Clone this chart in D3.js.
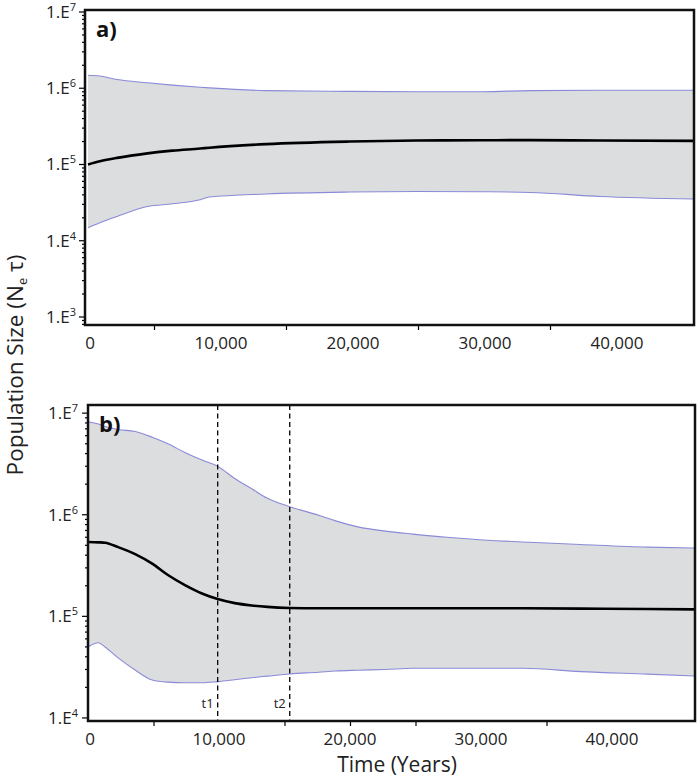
<!DOCTYPE html>
<html>
<head>
<meta charset="utf-8">
<script src="https://cdn.jsdelivr.net/npm/d3@7"></script>
<style>
  html, body { margin: 0; padding: 0; background: #fff; }
  svg { display: block; font-family: "Open Sans", "Noto Sans", sans-serif; }
</style>
</head>
<body>
<svg id="chart" width="700" height="780"></svg>
<script>
// ---------- DATA ----------
// Panel a) : time (years) and population size (Ne tau)
const timeA   = [0, 900, 2200, 4500, 6400, 8500, 9200, 13500, 19800, 24900, 29900, 33500, 38800, 45900];
const upperA  = [1.48e6, 1.45e6, 1.30e6, 1.18e6, 1.10e6, 1.03e6, 1.01e6, 9.3e5, 9.1e5, 9.0e5, 9.0e5, 9.3e5, 9.4e5, 9.4e5];
const medianA = [1.0e5, 1.1e5, 1.22e5, 1.40e5, 1.52e5, 1.62e5, 1.66e5, 1.85e5, 2.0e5, 2.06e5, 2.08e5, 2.09e5, 2.06e5, 2.04e5];
const lowerA  = [1.48e4, 1.72e4, 2.08e4, 2.81e4, 3.05e4, 3.45e4, 3.74e4, 4.1e4, 4.35e4, 4.43e4, 4.39e4, 4.3e4, 3.81e4, 3.52e4];

// Panel b)
const timeB   = [0, 800, 1300, 2300, 3600, 4900, 6100, 7400, 8700, 9900, 11200, 12500, 13700, 15400, 17600, 18900, 20600, 22700, 24800, 27400, 32400, 33200, 37600, 42700, 46300];
const upperB  = [8.2e6, 7.8e6, 7.4e6, 6.9e6, 6.6e6, 5.8e6, 5.0e6, 4.1e6, 3.45e6, 3.0e6, 2.27e6, 1.8e6, 1.45e6, 1.2e6, 9.9e5, 8.7e5, 7.6e5, 6.9e5, 6.45e5, 6.0e5, 5.45e5, 5.4e5, 5.1e5, 4.8e5, 4.7e5];
const medianB = [5.4e5, 5.35e5, 5.3e5, 4.8e5, 4.1e5, 3.3e5, 2.55e5, 2.03e5, 1.68e5, 1.48e5, 1.35e5, 1.28e5, 1.24e5, 1.21e5, 1.2e5, 1.2e5, 1.2e5, 1.2e5, 1.2e5, 1.2e5, 1.2e5, 1.2e5, 1.19e5, 1.18e5, 1.17e5];
const lowerB  = [5.0e4, 5.5e4, 5.0e4, 3.9e4, 2.96e4, 2.36e4, 2.25e4, 2.22e4, 2.22e4, 2.28e4, 2.38e4, 2.49e4, 2.58e4, 2.71e4, 2.82e4, 2.9e4, 2.95e4, 3.0e4, 3.08e4, 3.08e4, 3.08e4, 3.08e4, 2.86e4, 2.7e4, 2.59e4];

// Change points (years)
const changeTimes  = [9900, 15400];
const changeLabels = ["t1", "t2"];

// Tick labels
const xTickValues = [0, 10000, 20000, 30000, 40000];
const xMinorA = [5000, 15000, 25000, 35000];
const xMinorB = [5000, 15000, 20000, 25000, 35000];
const yTicksA = [3, 4, 5, 6, 7];
const yTicksB = [4, 5, 6, 7];
const panelLabels = ["a)", "b)"];
const yTitle = "Population Size";
const xTitle = "Time (Years)";

// ---------- DRAW ----------
const svg = d3.select("#chart");
const fmt = d3.format(",");

const panels = [
  { key: "a", label: panelLabels[0], left: 85, right: 694, top: 10, bottom: 325,
    xDom: [-227, 45909], yDom: [Math.pow(10, 2.895), Math.pow(10, 7.026)],
    t: timeA, up: upperA, med: medianA, lo: lowerA, yt: yTicksA, minor: xMinorA, labelEnd: 76 },
  { key: "b", label: panelLabels[1], left: 88, right: 695, top: 405, bottom: 721,
    xDom: [0, 46336], yDom: [Math.pow(10, 3.97), Math.pow(10, 7.08)],
    t: timeB, up: upperB, med: medianB, lo: lowerB, yt: yTicksB, minor: xMinorB, labelEnd: 78, change: true }
];

panels.forEach(p => {
  const x = d3.scaleLinear().domain(p.xDom).range([p.left, p.right]);
  const y = d3.scaleLog().domain(p.yDom).range([p.bottom, p.top]);
  const g = svg.append("g");

  const clipId = "clip-" + p.key;
  svg.append("clipPath").attr("id", clipId).append("rect")
    .attr("x", p.left).attr("y", p.top).attr("width", p.right - p.left).attr("height", p.bottom - p.top);

  const rows = p.t.map((t, i) => ({ t, up: p.up[i], med: p.med[i], lo: p.lo[i] }));
  const plot = g.append("g").attr("clip-path", `url(#${clipId})`);

  plot.append("path").datum(rows)
    .attr("d", d3.area().curve(d3.curveMonotoneX).x(d => x(d.t)).y0(d => y(d.lo)).y1(d => y(d.up)))
    .attr("fill", "#dcdddf");
  ["up", "lo"].forEach(k => {
    plot.append("path").datum(rows)
      .attr("d", d3.line().curve(d3.curveMonotoneX).x(d => x(d.t)).y(d => y(d[k])))
      .attr("fill", "none").attr("stroke", "#8a8ad8").attr("stroke-width", 1.1);
  });
  plot.append("path").datum(rows)
    .attr("d", d3.line().curve(d3.curveMonotoneX).x(d => x(d.t)).y(d => y(d.med)))
    .attr("fill", "none").attr("stroke", "#000").attr("stroke-width", 2.6);

  // change-point dashed lines
  if (p.change) {
    changeTimes.forEach((ct, i) => {
      g.append("line")
        .attr("x1", x(ct)).attr("x2", x(ct)).attr("y1", p.top).attr("y2", p.bottom)
        .attr("stroke", "#000").attr("stroke-width", 1.3).attr("stroke-dasharray", "5,3.5");
      g.append("text").attr("x", x(ct) - 4).attr("y", p.bottom - 13)
        .attr("text-anchor", "end").attr("font-size", 13).attr("fill", "#222")
        .text(changeLabels[i]);
    });
  }

  // y axis ticks (log minor)
  const [lo, hi] = p.yDom;
  const minorVals = [];
  for (let e = Math.floor(Math.log10(lo)); e <= Math.ceil(Math.log10(hi)); e++) {
    for (let m = 1; m <= 9; m++) {
      const v = m * Math.pow(10, e);
      if (v >= lo && v <= hi) minorVals.push({ v, major: m === 1 });
    }
  }
  g.selectAll(null).data(minorVals).enter().append("line")
    .attr("x1", d => p.left - (d.major ? 6 : 3)).attr("x2", p.left)
    .attr("y1", d => y(d.v)).attr("y2", d => y(d.v))
    .attr("stroke", "#000").attr("stroke-width", 1.2);

  p.yt.forEach(e => {
    const t = g.append("text").attr("x", p.labelEnd).attr("y", y(Math.pow(10, e)) + 6)
      .attr("text-anchor", "end").attr("font-size", 17).attr("fill", "#222");
    t.append("tspan").text("1.E");
    t.append("tspan").attr("font-size", 11).attr("dy", -7).text(e);
  });

  // x axis
  const xAxis = d3.axisBottom(x).tickValues(p.minor).tickSize(5).tickFormat("");
  const ax = g.append("g").attr("transform", `translate(0,${p.bottom})`).call(xAxis);
  ax.select(".domain").remove();
  ax.selectAll("line").attr("stroke", "#000").attr("stroke-width", 1.2);

  xTickValues.forEach(v => {
    g.append("text").attr("x", x(v) + (p.key === "a" && v > 0 ? 1 : 0) + (v === 0 ? 2 : 0))
      .attr("y", p.bottom + 24)
      .attr("text-anchor", "middle").attr("font-size", 17).attr("fill", "#222")
      .text(fmt(v));
  });

  // frame
  g.append("rect").attr("x", p.left).attr("y", p.top)
    .attr("width", p.right - p.left).attr("height", p.bottom - p.top)
    .attr("fill", "none").attr("stroke", "#111").attr("stroke-width", 2.5);

  // panel label
  g.append("text").attr("x", p.left + 11).attr("y", p.top + 27)
    .attr("font-size", 22).attr("font-weight", "bold").attr("fill", "#111")
    .text(p.label);
});

// axis titles
const yt = svg.append("text")
  .attr("transform", "translate(23,365) rotate(-90)")
  .attr("text-anchor", "middle").attr("font-size", 22.5).attr("fill", "#222");
yt.append("tspan").text(yTitle + " (N");
yt.append("tspan").attr("font-size", 13).attr("dy", 4).text("e");
yt.append("tspan").attr("dy", -4).text(" τ)");

svg.append("text").attr("x", 397).attr("y", 772)
  .attr("text-anchor", "middle").attr("font-size", 21).attr("fill", "#222")
  .text(xTitle);
</script>
</body>
</html>
